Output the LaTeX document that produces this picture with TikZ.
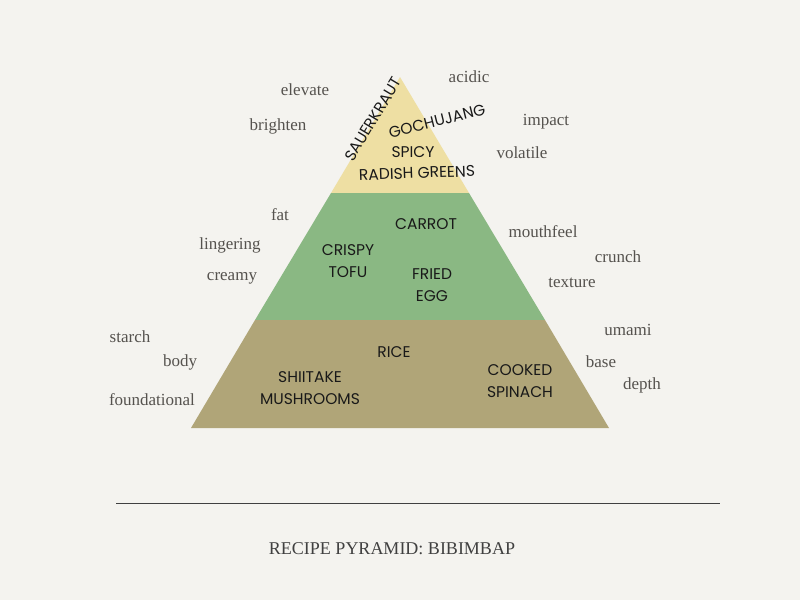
\documentclass[tikz,border=0pt]{standalone}
\usepackage{fontspec}
\setmainfont{Liberation Serif}
\newfontfamily\layerfont{Poppins}
\usepackage{tikz}
\usetikzlibrary{positioning}

\definecolor{bgcream}{RGB}{244,243,239}
\definecolor{tiertop}{RGB}{238,223,163}
\definecolor{tiermid}{RGB}{138,184,131}
\definecolor{tierbase}{RGB}{176,165,120}
\definecolor{wordgray}{RGB}{85,82,78}

\tikzset{
  food/.style={font=\layerfont\fontsize{15.5}{22}\selectfont, text=black!90, align=center, inner sep=0.75pt},
  taste/.style={font=\fontsize{17}{20}\selectfont, text=wordgray, inner sep=0.75pt},
}

\begin{document}
\begin{tikzpicture}[x=1pt,y=1pt,yscale=-1,xscale=1]
    %set diagram to 800 x 600
    \fill [bgcream] (0,0) rectangle (800,600);
    \useasboundingbox (0,0) rectangle (800,600);

    %Shape: top tier
    \fill [tiertop] (400,77) -- (469,193) -- (331,193) -- cycle ;
    %Shape: middle tier
    \fill [tiermid] (331,193) -- (469,193) -- (545,320) -- (255,320) -- cycle ;
    %Shape: base tier
    \fill [tierbase] (255,320) -- (545,320) -- (609,428) -- (191,428) -- cycle ;

    %Straight Lines
    \coordinate (ruleL) at (116,503);
    \coordinate (ruleR) at (720,503);
    \draw [line width=1pt, black!75] (ruleL) -- (ruleR) ;

    % Text Node: top tier
    \node (sauer) [food, rotate=59] at (373,119) {SAUERKRAUT};
    \node (gochu) [food, rotate=14] at (437,121) {GOCHUJANG};
    \node (spicy) [food] at (413,152) {SPICY};
    \node (radish) [food, rotate=2] at (417,173) {RADISH GREENS};

    % Text Node: middle tier
    \node (carrot) [food] at (426,224) {CARROT};
    \node (tofu) [food] at (348,261) {CRISPY\\TOFU};
    \node (egg) [food] at (432,285) {FRIED\\EGG};

    % Text Node: base tier
    \node (rice) [food] at (394,352) {RICE};
    \node (shiitake) [food] at (310,388) {SHIITAKE\\MUSHROOMS};
    \node (spinach) [food] at (520,381) {COOKED\\SPINACH};

    % Text Node: side words
    \node (elevate) [taste] at (305,90) {elevate};
    \node (brighten) [taste] at (278,126) {brighten};
    \node (acidic) [taste] at (469,77) {acidic};
    \node (impact) [taste] at (546,122) {impact};
    \node (volatile) [taste] at (522,153) {volatile};
    \node (fat) [taste] at (280,215) {fat};
    \node (lingering) [taste] at (230,245) {lingering};
    \node (creamy) [taste] at (232,278) {creamy};
    \node (mouthfeel) [taste] at (543,232) {mouthfeel};
    \node (crunch) [taste] at (618,257) {crunch};
    \node (texture) [taste] at (572,283) {texture};
    \node (starch) [taste] at (130,337) {starch};
    \node (body) [taste] at (180,362) {body};
    \node (foundational) [taste] at (152,400) {foundational};
    \node (umami) [taste] at (628,330) {umami};
    \node (base) [taste] at (601,362) {base};
    \node (depth) [taste] at (642,385) {depth};

    % Text Node: title
    \node (title) [taste, font=\fontsize{18}{22}\selectfont, text=black!75] at (392,549) {RECIPE PYRAMID: BIBIMBAP};

\end{tikzpicture}
\end{document}
